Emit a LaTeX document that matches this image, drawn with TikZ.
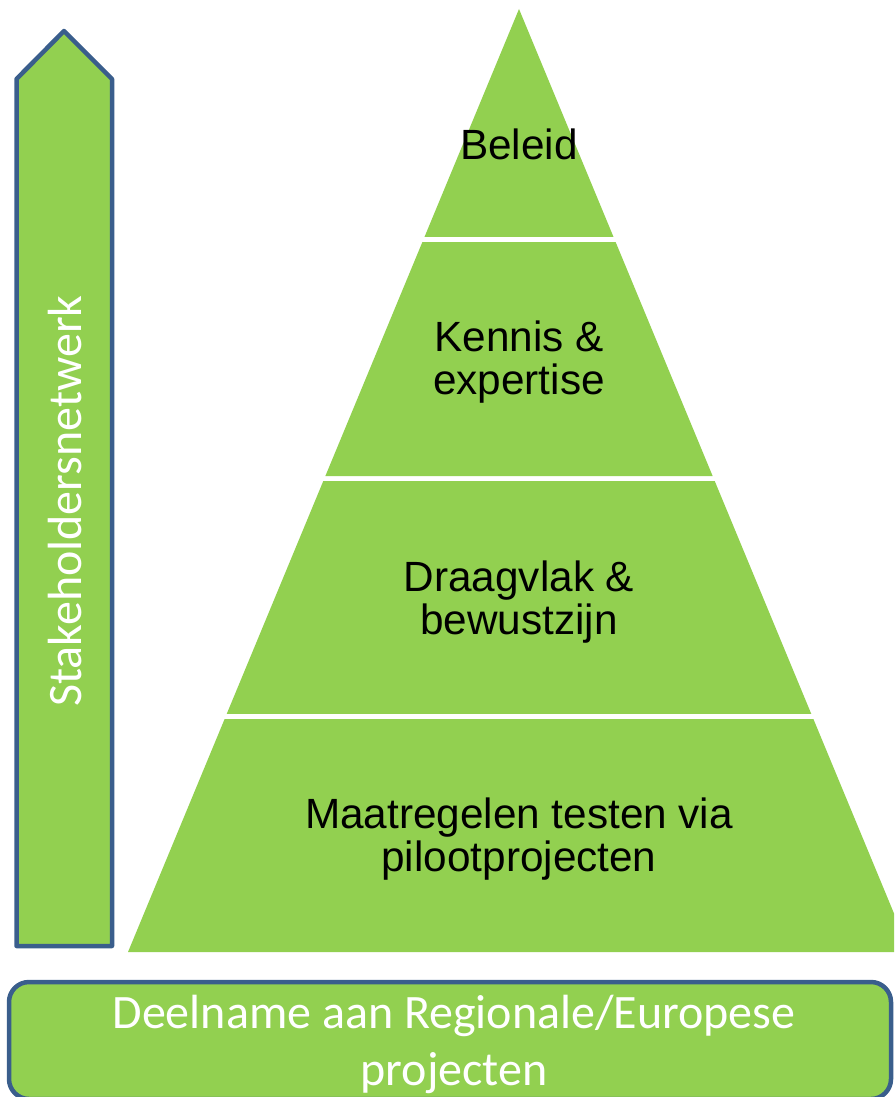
\documentclass[tikz,border=0pt]{standalone}
\usepackage{fontspec}
\setmainfont{Liberation Sans}
\newfontfamily\calib{Carlito}
\usetikzlibrary{calc}
\definecolor{pgreen}{HTML}{92D050}
\definecolor{pblue}{HTML}{3A5E8C}
\tikzset{
  tier/.style={fill=pgreen, draw=none},
  tiertext/.style={anchor=base, inner sep=0pt, text=black, font=\fontsize{42.3}{43}\selectfont},
  bluebox/.style={fill=pgreen, draw=pblue, line width=4.5pt, line join=round},
  whitetext/.style={anchor=base, inner sep=0pt, text=white, font=\calib\fontsize{48}{57}\selectfont}
}
\begin{document}
\begin{tikzpicture}[x=1pt,y=-1pt]
\useasboundingbox (0,0) rectangle (894,1097);
\clip (0,0) rectangle (894,1097);
% pyramid
\coordinate (A) at (519,9);
\coordinate (L) at (128,952);
\coordinate (R) at (910,952);
\fill[tier] (A) -- ($(A)!0.24178!(L)$) -- ($(A)!0.24178!(R)$) -- cycle;
\fill[tier] ($(A)!0.24708!(L)$) -- ($(A)!0.49523!(L)$) -- ($(A)!0.49523!(R)$) -- ($(A)!0.24708!(R)$) -- cycle;
\fill[tier] ($(A)!0.50053!(L)$) -- ($(A)!0.74761!(L)$) -- ($(A)!0.74761!(R)$) -- ($(A)!0.50053!(R)$) -- cycle;
\fill[tier] ($(A)!0.75292!(L)$) -- (L) -- (R) -- ($(A)!0.75292!(R)$) -- cycle;
\node[tiertext] (t1) at (519,160) {Beleid};
\node[tiertext] (t2a) at (519,351) {Kennis \&};
\node[tiertext] (t2b) at (519,394) {expertise};
\node[tiertext] (t3a) at (519,591) {Draagvlak \&};
\node[tiertext] (t3b) at (519,634) {bewustzijn};
\node[tiertext] (t4a) at (519,828) {Maatregelen testen via};
\node[tiertext] (t4b) at (519,871) {pilootprojecten};
% arrow
\draw[bluebox] (16.5,946) -- (16.5,79) -- (64,31) -- (112,79) -- (112,946) -- cycle;
\node[whitetext, rotate=90] (stake) at (81.5,501) {Stakeholdersnetwerk};
% bottom box
\draw[bluebox, rounded corners=20pt] (9,982) rectangle (891,1099);
\node[whitetext] (d1) at (454,1028) {Deelname aan Regionale/Europese};
\node[whitetext] (d2) at (454,1085) {projecten};
\end{tikzpicture}
\end{document}
